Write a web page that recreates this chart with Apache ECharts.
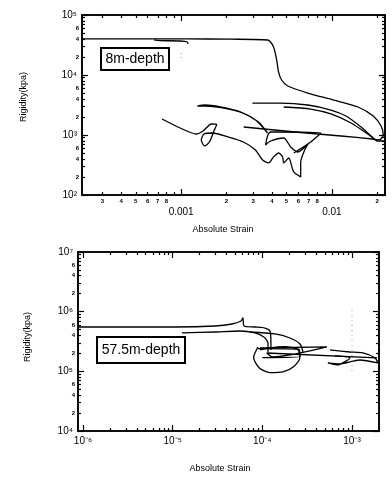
<!DOCTYPE html>
<html><head><meta charset="utf-8">
<script src="https://cdn.jsdelivr.net/npm/echarts@6/dist/echarts.min.js"></script>
<style>html,body{margin:0;padding:0;background:#fff}#c{width:392px;height:479px}</style>
</head><body><div id="c"></div>
<script>
// ---------- Axis ranges / ticks (values) ----------
const topXRange = [2.2e-4, 2.25e-2];
const topYRange = [1e2, 1e5];
const botXRange = [8.8e-7, 2.0e-3];
const botYRange = [1e4, 1e7];

const topXMajorTicks = [1e-3, 1e-2];
const topXMajorLabels = ['0.001', '0.01'];
const topXMinorTicks = [3e-4,4e-4,5e-4,6e-4,7e-4,8e-4,9e-4,2e-3,3e-3,4e-3,5e-3,6e-3,7e-3,8e-3,9e-3,2e-2];
const topXMinorLabels = [3e-4,4e-4,5e-4,6e-4,7e-4,8e-4,2e-3,3e-3,4e-3,5e-3,6e-3,7e-3,8e-3,2e-2];
const topYMajorTicks = [1e2, 1e3, 1e4, 1e5];
const topYMinorTicks = [2e2,3e2,4e2,5e2,6e2,7e2,8e2,9e2,2e3,3e3,4e3,5e3,6e3,7e3,8e3,9e3,2e4,3e4,4e4,5e4,6e4,7e4,8e4,9e4];
const topYMinorLabels = [2e2,4e2,6e2,2e3,4e3,6e3,2e4,4e4,6e4];

const botXMajorTicks = [1e-6, 1e-5, 1e-4, 1e-3];
const botXMinorTicks = [2e-6,3e-6,4e-6,5e-6,6e-6,7e-6,8e-6,9e-6,2e-5,3e-5,4e-5,5e-5,6e-5,7e-5,8e-5,9e-5,2e-4,3e-4,4e-4,5e-4,6e-4,7e-4,8e-4,9e-4];
const botXMinorLabels = [];
const botYMajorTicks = [1e4, 1e5, 1e6, 1e7];
const botYMinorTicks = [2e4,3e4,4e4,5e4,6e4,7e4,8e4,9e4,2e5,3e5,4e5,5e5,6e5,7e5,8e5,9e5,2e6,3e6,4e6,5e6,6e6,7e6,8e6,9e6];
const botYMinorLabels = [2e4,4e4,6e4,2e5,4e5,6e5,2e6,4e6,6e6];

const panelLabels = ['8m-depth', '57.5m-depth'];
const xTitle = 'Absolute Strain';
const yTitle = 'Rigidity(kpa)';

// ---------- 8m-depth traces (strain, rigidity kPa) ----------
const d8aStrain = [2.19e-4,1.10e-3,2.12e-3,3.74e-3,4.10e-3,4.30e-3,4.43e-3,4.64e-3,5.09e-3,6.92e-3,1.03e-2,1.49e-2,1.88e-2,2.12e-2,2.19e-2,2.06e-2,1.85e-2,1.15e-2,6.2e-3,2.6e-3];
const d8aRig    = [40000,40000,39500,38300,29300,17800,11200,8250,6560,5010,3830,2930,2070,1410,1000,826,858,962,1100,1360];
const d8bStrain = [6.6e-4,7.2e-4,9.9e-4,1.10e-3,1.11e-3];
const d8bRig    = [38500,37500,36900,35500,32900];
const d8cStrain = [2.97e-3,4.57e-3,6.92e-3,9.85e-3,1.24e-2,1.56e-2,1.82e-2,2.0e-2,2.24e-2];
const d8cRig    = [3410,3410,3160,2610,2070,1360,962,794,794];
const d8dStrain = [4.79e-3,7.24e-3,9.85e-3,1.34e-2,1.69e-2,1.91e-2];
const d8dRig    = [2930,2710,2240,1585,1080,858];
const d8eStrain = [1.28e-3,1.445e-3,1.82e-3,2.47e-3,3.11e-3,3.47e-3,3.74e-3,3.26e-3,2.55e-3,1.875e-3,1.445e-3,1.28e-3];
const d8eRig    = [3040,3160,2930,2420,1778,1360,1080,1648,2330,2820,3040,3040];
const d8fStrain = [7.47e-4,9.85e-4,1.259e-3,1.40e-3,1.585e-3,1.72e-3,1.65e-3,1.54e-3,1.43e-3,1.36e-3,1.42e-3,1.61e-3,2.06e-3,2.59e-3,3.11e-3,3.47e-3,3.80e-3,4.10e-3,4.43e-3,4.71e-3,4.79e-3,5.17e-3,5.58e-3,6.21e-3,6.21e-3,6.60e-3,7.03e-3,5.93e-3,5.33e-3,4.79e-3,3.92e-3,3.63e-3,3.92e-3,8.45e-3,7.24e-3,5.58e-3];
const d8fRig    = [1850,1309,1040,1166,1525,1500,1166,764,660,826,1040,1080,926,764,562,383,342,430,501,430,342,414,242,200,355,562,736,521,631,891,794,681,1122,1080,764,501];
const d8DotStrain = [1e-3, 1e-3];
const d8DotRig    = [23400, 17800];

// ---------- 57.5m-depth traces ----------
const d57aStrain = [8.79e-7,1.06e-5,2.96e-5,4.58e-5,5.78e-5,6.08e-5,6.24e-5,8.26e-5,1.07e-4,1.216e-4,1.247e-4,1.247e-4];
const d57aRig    = [553000,553000,575000,621000,698000,783000,575000,553000,532000,474000,298000,228000];
const d57bStrain = [1.27e-5,2.96e-5,5.62e-5,8.26e-5,1.04e-4,1.156e-4,1.156e-4];
const d57bRig    = [440000,456000,474000,440000,377000,298000,211000];
const d57cStrain = [7.28e-5,1.38e-4,2.03e-4,2.63e-4,2.84e-4];
const d57cRig    = [456000,423000,362000,287000,211000];
const d57dStrain = [8.93e-5,8.0e-5,9.2e-5,1.216e-4,1.70e-4,2.25e-4,2.62e-4,2.48e-4,1.79e-4,1.216e-4,9.4e-5];
const d57dRig    = [256000,170000,115000,95000,98000,121000,168000,232000,260000,248000,228000];
const d57eStrain = [9.4e-5,5.25e-4,1.31e-4,1.12e-4,1.90e-3];
const d57eRig    = [246000,256000,174000,203000,168000];
const d57fStrain = [5.68e-4,9.48e-4,1.325e-3,1.80e-3,1.95e-3,1.22e-3,7.33e-4,5.38e-4,6.79e-4,9.48e-4,6.46e-4];
const d57fRig    = [228000,211000,203000,168000,138000,155000,133000,138000,128000,168000,181000];
const d57gStrain = [8.93e-5,2.56e-4,2.63e-4,1.0e-4];
const d57gRig    = [240000,235000,175000,170000];
const d57DotStrain = [1e-3, 1e-3];
const d57DotRig    = [1.07e6, 8.7e4];

// ---------- helpers ----------
const L = Math.log10;
const SUP = {'0':'⁰','1':'¹','2':'²','3':'³','4':'⁴','5':'⁵','6':'⁶','7':'⁷','8':'⁸','9':'⁹','-':'⁻'};
const decade = v => '10' + String(Math.round(v)).split('').map(c => SUP[c]).join('');
const minorFmt = v => String(Math.round(Math.pow(10, v - Math.floor(v + 1e-9))));
const FONT = 'Liberation Sans, Arial, sans-serif';

function axisSet(kind, gi, range, majT, minT, majL, minL, majFmt, majSize, majMargin, minSize, minMargin) {
  const pos = kind === 'x' ? ['bottom', 'top'] : ['left', 'right'];
  const base = () => ({
    type: 'value', gridIndex: gi, min: L(range[0]), max: L(range[1]),
    splitLine: { show: false },
    axisLine: { show: true, onZero: false, lineStyle: { color: '#000', width: 1.6 } }
  });
  const tick = (vals, len) => ({ show: true, inside: true, length: len, customValues: vals.map(L), lineStyle: { color: '#000', width: 1.2 } });
  const out = [];
  out.push(Object.assign(base(), { position: pos[0], axisTick: tick(majT, 6),
    axisLabel: majL.length ? { show: true, customValues: majL.map(L), formatter: majFmt, fontSize: majSize, margin: majMargin, color: '#000', fontFamily: FONT } : { show: false } }));
  out.push(Object.assign(base(), { position: pos[0], axisTick: tick(minT, 3),
    axisLabel: minL.length ? { show: true, customValues: minL.map(L), formatter: minorFmt, fontSize: minSize, margin: minMargin, color: '#000', fontWeight: 'bold', fontFamily: FONT } : { show: false } }));
  out.push(Object.assign(base(), { position: pos[1], axisTick: tick(majT, 6), axisLabel: { show: false } }));
  out.push(Object.assign(base(), { position: pos[1], axisTick: tick(minT, 3), axisLabel: { show: false } }));
  return out;
}

const topXFmt = v => { let bi = 0; topXMajorTicks.forEach((t, i) => { if (Math.abs(L(t) - v) < Math.abs(L(topXMajorTicks[bi]) - v)) bi = i; }); return topXMajorLabels[bi]; };

const xAxes = [].concat(
  axisSet('x', 0, topXRange, topXMajorTicks, topXMinorTicks, topXMajorTicks, topXMinorLabels, topXFmt, 10, 12, 6, 3),
  axisSet('x', 1, botXRange, botXMajorTicks, botXMinorTicks, botXMajorTicks, botXMinorLabels, decade, 10, 5, 6, 3)
);
const yAxes = [].concat(
  axisSet('y', 0, topYRange, topYMajorTicks, topYMinorTicks, topYMajorTicks, topYMinorLabels, decade, 10, 5, 6, 3),
  axisSet('y', 1, botYRange, botYMajorTicks, botYMinorTicks, botYMajorTicks, botYMinorLabels, decade, 10, 5, 6, 3)
);

function line(gi, xs, ys, opts) {
  return Object.assign({
    type: 'line', xAxisIndex: gi * 4, yAxisIndex: gi * 4,
    data: xs.map((x, i) => [L(x), L(ys[i])]),
    symbol: 'none', smooth: 0.25, silent: true, clip: true,
    lineStyle: { color: '#000', width: 1.3 }
  }, opts || {});
}

const series = [
  line(0, d8aStrain, d8aRig),
  line(0, d8bStrain, d8bRig),
  line(0, d8cStrain, d8cRig),
  line(0, d8dStrain, d8dRig),
  line(0, d8eStrain, d8eRig),
  line(0, d8fStrain, d8fRig),
  line(0, d8DotStrain, d8DotRig, { smooth: false, lineStyle: { color: '#999', width: 1, type: [1, 3] } }),
  line(1, d57aStrain, d57aRig),
  line(1, d57bStrain, d57bRig),
  line(1, d57cStrain, d57cRig),
  line(1, d57dStrain, d57dRig),
  line(1, d57eStrain, d57eRig),
  line(1, d57fStrain, d57fRig),
  line(1, d57gStrain, d57gRig),
  line(1, d57DotStrain, d57DotRig, { smooth: false, lineStyle: { color: '#999', width: 1, type: [1, 4] } })
];

function labelBox(x, y, w, h, text) {
  return { type: 'group', children: [
    { type: 'rect', shape: { x: x, y: y, width: w, height: h }, style: { fill: '#fff', stroke: '#000', lineWidth: 2 } },
    { type: 'text', x: x + w / 2, y: y + h / 2, style: { text: text, font: '14px ' + FONT, fill: '#000', align: 'center', verticalAlign: 'middle' } }
  ]};
}
function plainText(x, y, text, rot) {
  return { type: 'text', x: x, y: y, rotation: rot || 0, style: { text: text, font: '9px ' + FONT, fill: '#000', align: 'center', verticalAlign: 'middle' } };
}

const chart = echarts.init(document.getElementById('c'), null, { renderer: 'canvas' });
chart.setOption({
  animation: false,
  backgroundColor: '#fff',
  grid: [
    { left: 82, top: 15, width: 303, height: 180 },
    { left: 78, top: 252, width: 301, height: 179 }
  ],
  xAxis: xAxes,
  yAxis: yAxes,
  series: series,
  graphic: [
    labelBox(101, 48, 68, 22, panelLabels[0]),
    labelBox(97, 337, 88, 26, panelLabels[1]),
    plainText(223, 230, xTitle),
    plainText(220, 469, xTitle),
    plainText(24, 97, yTitle, Math.PI / 2),
    plainText(28, 337, yTitle, Math.PI / 2)
  ]
});
</script></body></html>
